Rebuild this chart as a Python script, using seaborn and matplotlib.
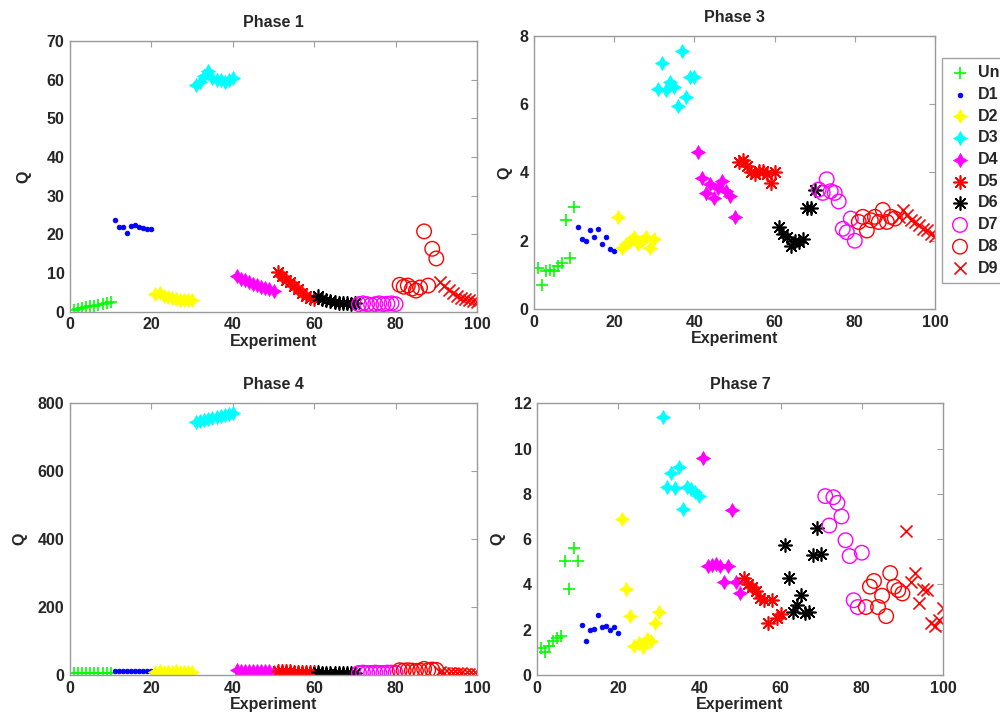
import numpy as np
import pandas as pd
import matplotlib
matplotlib.use("Agg")
import matplotlib.pyplot as plt
import seaborn as sns

# ---------------- data ----------------
GROUPS = ["Un", "D1", "D2", "D3", "D4", "D5", "D6", "D7", "D8", "D9"]
COLORS = ["#00ff00", "#0000ff", "#ffff00", "#00ffff", "#ff00ff",
          "#ff0000", "#000000", "#ff00ff", "#ff0000", "#ff0000"]
PHASES = ["Phase 1", "Phase 3", "Phase 4", "Phase 7"]
X_TICKS = [0, 20, 40, 60, 80, 100]
Y_TICKS_P1 = [0, 10, 20, 30, 40, 50, 60, 70]
Y_TICKS_P3 = [0, 2, 4, 6, 8]
Y_TICKS_P4 = [0, 200, 400, 600, 800]
Y_TICKS_P7 = [0, 2, 4, 6, 8, 10, 12]

# Phase 1
P1_UN = [0.6, 0.8, 1.0, 1.2, 1.4, 1.6, 1.9, 2.1, 2.4, 2.5]
P1_D1 = [23.8, 22.0, 21.8, 20.3, 22.3, 22.5, 22.0, 21.7, 21.3, 21.5]
P1_D2 = [4.5, 5.0, 4.2, 3.8, 3.5, 3.3, 3.0, 3.2, 3.0, 3.1]
P1_D3 = [58.5, 59.5, 61.0, 62.3, 60.5, 60.0, 59.8, 59.5, 60.0, 60.5]
P1_D4 = [9.3, 8.6, 8.2, 7.6, 7.2, 6.9, 6.5, 6.2, 5.9, 5.5]
P1_D5 = [10.4, 9.2, 8.3, 7.6, 6.6, 5.9, 5.0, 4.2, 3.6, 3.3]
P1_D6 = [4.0, 3.4, 3.1, 2.9, 2.6, 2.3, 2.2, 2.4, 2.1, 2.4]
P1_D7 = [2.0, 2.2, 2.0, 1.8, 2.0, 2.2, 2.0, 2.1, 2.2, 2.0]
P1_D8 = [7.0, 6.5, 6.8, 6.0, 5.5, 6.3, 20.8, 6.8, 16.3, 13.8]
P1_D9 = [7.8, 6.6, 5.6, 4.8, 4.2, 3.7, 3.3, 3.0, 2.7, 2.5]

# Phase 3
P3_UN = [1.2, 0.7, 1.1, 1.15, 1.1, 1.25, 1.35, 2.6, 1.5, 3.0]
P3_D1 = [2.4, 2.05, 2.0, 2.3, 2.1, 2.35, 1.9, 2.1, 1.75, 1.7]
P3_D2 = [2.7, 1.8, 1.9, 2.0, 2.1, 1.9, 2.0, 2.1, 1.8, 2.05]
P3_D3 = [6.45, 7.2, 6.4, 6.65, 6.5, 5.95, 7.55, 6.2, 6.8, 6.8]
P3_D4 = [4.6, 3.85, 3.4, 3.65, 3.25, 3.55, 3.75, 3.45, 3.3, 2.7]
P3_D5 = [4.3, 4.35, 4.2, 4.0, 3.95, 4.05, 4.05, 3.95, 3.7, 4.0]
P3_D6 = [2.4, 2.2, 2.1, 1.85, 2.0, 1.95, 2.05, 2.95, 2.95, 3.5]
P3_D7 = [3.5, 3.4, 3.8, 3.45, 3.4, 3.15, 2.35, 2.25, 2.65, 2.0]
P3_D8 = [2.55, 2.7, 2.3, 2.6, 2.7, 2.55, 2.9, 2.55, 2.7, 2.65]
P3_D9 = [2.7, 2.9, 2.75, 2.6, 2.55, 2.45, 2.35, 2.3, 2.2, 2.15]

# Phase 4
P4_UN = [5, 6, 5, 7, 6, 5, 6, 7, 6, 5]
P4_D1 = [12, 13, 12, 12, 13, 12, 11, 12, 12, 11]
P4_D2 = [10, 11, 10, 9, 10, 11, 10, 9, 10, 10]
P4_D3 = [745, 748, 752, 755, 758, 760, 763, 766, 768, 772]
P4_D4 = [14, 13, 13, 12, 12, 12, 11, 11, 11, 10]
P4_D5 = [12, 12, 11, 11, 10, 10, 9, 9, 8, 8]
P4_D6 = [8, 7, 7, 6, 6, 6, 5, 6, 5, 6]
P4_D7 = [6, 7, 6, 6, 7, 6, 6, 7, 7, 6]
P4_D8 = [14, 13, 14, 13, 12, 13, 18, 14, 16, 15]
P4_D9 = [8, 7, 6, 6, 5, 5, 4, 4, 4, 3]

# Phase 7
P7_UN = [1.2, 1.0, 1.3, 1.5, 1.65, 1.7, 5.05, 3.8, 5.6, 5.05]
P7_D1 = [2.2, 1.5, 2.0, 2.05, 2.65, 2.1, 2.15, 2.0, 2.1, 1.85]
P7_D2 = [6.9, 3.8, 2.6, 1.3, 1.4, 1.25, 1.6, 1.5, 2.3, 2.8]
P7_D3 = [11.4, 8.3, 8.9, 8.25, 9.2, 7.35, 8.3, 8.2, 8.1, 7.9]
P7_D4 = [9.6, 4.8, 4.85, 4.9, 4.8, 4.1, 4.8, 7.3, 4.1, 3.6]
P7_D5 = [4.3, 4.0, 3.9, 3.7, 3.4, 3.3, 2.3, 3.3, 2.5, 2.7]
P7_D6 = [5.75, 4.3, 2.8, 3.1, 3.55, 2.75, 2.8, 5.3, 6.5, 5.35]
P7_D7 = [7.9, 6.6, 7.85, 7.6, 7.0, 5.95, 5.25, 3.3, 3.0, 5.4]
P7_D8 = [3.0, 3.9, 4.15, 3.0, 3.5, 2.6, 4.5, 3.9, 3.75, 3.6]
P7_D9 = [6.35, 4.1, 4.5, 3.2, 3.8, 3.75, 2.3, 2.15, 2.45, 2.95]

PHASE_DATA = [
    [P1_UN, P1_D1, P1_D2, P1_D3, P1_D4, P1_D5, P1_D6, P1_D7, P1_D8, P1_D9],
    [P3_UN, P3_D1, P3_D2, P3_D3, P3_D4, P3_D5, P3_D6, P3_D7, P3_D8, P3_D9],
    [P4_UN, P4_D1, P4_D2, P4_D3, P4_D4, P4_D5, P4_D6, P4_D7, P4_D8, P4_D9],
    [P7_UN, P7_D1, P7_D2, P7_D3, P7_D4, P7_D5, P7_D6, P7_D7, P7_D8, P7_D9],
]
Y_TICKS = [Y_TICKS_P1, Y_TICKS_P3, Y_TICKS_P4, Y_TICKS_P7]

# ---------------- style ----------------
sns.set_style("white")
plt.rcParams["font.family"] = ["Liberation Sans", "DejaVu Sans"]
plt.rcParams["font.weight"] = "bold"

STAR4 = (4, 1, 0)
AST = (8, 2, 0)
MARKERS = ["+", ".", STAR4, STAR4, STAR4, AST, AST, "o", "o", "x"]
SIZES = [85, 45, 100, 100, 100, 90, 90, 110, 110, 75]
OPEN = [False, False, False, False, False, False, False, True, True, False]

# axes rectangles (figure fraction): left, bottom, width, height
RECTS = [
    (0.070, 0.565, 0.407, 0.378),
    (0.534, 0.569, 0.401, 0.381),
    (0.070, 0.0586, 0.407, 0.379),
    (0.537, 0.0586, 0.406, 0.379),
]
YLAB_X = [-0.094, -0.054, -0.105, -0.078]

fig = plt.figure(figsize=(10, 7.17), dpi=100)
axes = []
for pi, (phase, rect) in enumerate(zip(PHASES, RECTS)):
    ax = fig.add_axes(rect)
    axes.append(ax)
    for gi, (grp, vals) in enumerate(zip(GROUPS, PHASE_DATA[pi])):
        x = np.arange(gi * 10 + 1, gi * 10 + 11)
        df = pd.DataFrame({"Experiment": x, "Q": vals})
        m = MARKERS[gi]
        c = COLORS[gi]
        kws = dict(marker=m, s=SIZES[gi], color=c, legend=False, label=grp, ax=ax)
        if m in (STAR4, "."):
            kws.update(edgecolor=c, linewidth=0.6)
        elif m == "o":
            kws.update(linewidth=1.0)
        else:
            kws.update(linewidth=1.2)
        sns.scatterplot(data=df, x="Experiment", y="Q", **kws)
        if OPEN[gi]:
            coll = ax.collections[-1]
            coll.set_facecolor("none")
            coll.set_edgecolor(c)
            coll.set_linewidth(1.0)
    yt = Y_TICKS[pi]
    ax.set_xlim(0, 100)
    ax.set_ylim(yt[0], yt[-1])
    ax.set_xticks(X_TICKS)
    ax.set_yticks(yt)
    ax.tick_params(direction="in", top=True, right=True, length=4, width=0.8,
                   color="#a0a0a0", labelsize=11.5, pad=4)
    for lab in ax.get_xticklabels() + ax.get_yticklabels():
        lab.set_fontweight("bold")
    for sp in ax.spines.values():
        sp.set_visible(True)
        sp.set_color("#9a9a9a")
        sp.set_linewidth(1.0)
    ax.set_title(phase, fontsize=11.5, fontweight="bold", pad=10)
    ax.set_xlabel("Experiment", fontsize=11.5, fontweight="bold")
    ax.set_ylabel("Q", fontsize=11.5, fontweight="bold")
    ax.xaxis.set_label_coords(0.5, -0.08)
    ax.yaxis.set_label_coords(YLAB_X[pi], 0.5)

handles, labels = axes[1].get_legend_handles_labels()
leg = fig.legend(handles, labels, loc="upper left",
                 bbox_to_anchor=(0.942, 1 - 58 / 717), bbox_transform=fig.transFigure,
                 borderaxespad=0, frameon=True, fancybox=False, fontsize=11.5,
                 labelspacing=0.42, handlelength=1.35, handletextpad=0.45,
                 borderpad=0.45, scatterpoints=1)
leg.get_frame().set_edgecolor("#8c8c8c")
leg.get_frame().set_linewidth(1.0)
for t in leg.get_texts():
    t.set_fontweight("bold")

fig.savefig("out.png", dpi=100)
